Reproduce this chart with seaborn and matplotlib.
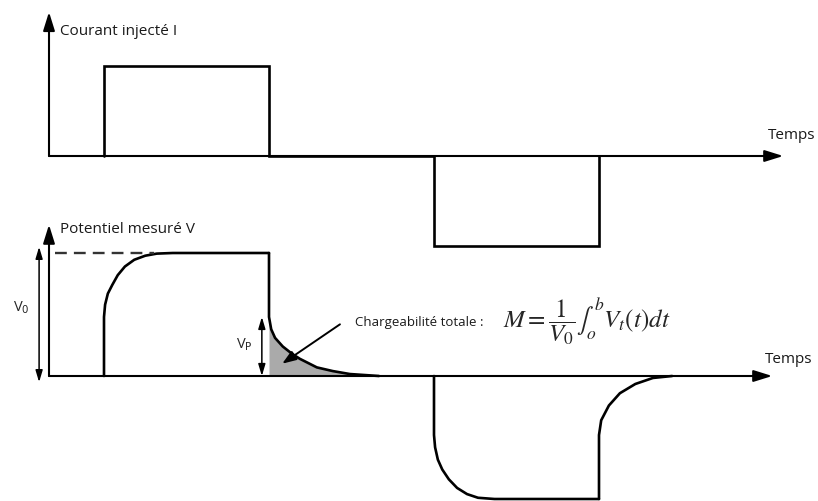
import matplotlib
matplotlib.use("Agg")
import matplotlib.pyplot as plt
import seaborn as sns

sns.set_style("white")
plt.rcParams['font.family'] = ['Open Sans', 'DejaVu Sans']

# injected current: two opposite square pulses (time units, current units)
current_t = [1, 1, 4, 4, 7, 7, 10, 10]
current_i = [0, 1, 1, 0, 0, -1, -1, 0]

charge_t = [1.0, 1.0, 1.02, 1.07, 1.15, 1.25, 1.38, 1.55, 1.75, 1.96, 2.25, 4.0]
charge_v = [0.0, 0.48, 0.58, 0.67, 0.74, 0.82, 0.89, 0.945, 0.978, 0.995, 1.0, 1.0]
decay_t = [4.0, 4.0, 4.04, 4.11, 4.25, 4.42, 4.56, 4.87, 5.16, 5.47, 6.0]
decay_v = [1.0, 0.48, 0.38, 0.31, 0.24, 0.18, 0.14, 0.07, 0.04, 0.016, 0.0]
neg_charge_t = [7.0, 7.0, 7.02, 7.07, 7.15, 7.27, 7.42, 7.6, 7.8, 8.1, 10.0]
neg_charge_v = [0.0, -0.48, -0.58, -0.68, -0.76, -0.84, -0.91, -0.96, -0.99, -1.0, -1.0]
neg_decay_t = [10.0, 10.0, 10.04, 10.18, 10.38, 10.66, 10.98, 11.33]
neg_decay_v = [-1.0, -0.48, -0.36, -0.24, -0.14, -0.065, -0.016, 0.0]

v0 = 1.0
vp = 0.48
t_end_top = 13.35
t_end_bottom = 13.15

W, H = 818, 502
fig = plt.figure(figsize=(W / 100, H / 100), dpi=100)
ax_i = fig.add_axes([0, 0, 1, 1])
ax_v = fig.add_axes([0, 0, 1, 1])

# scales: 55 px per time unit, axes origin at x=49 px
px_t, x0 = 55.0, 49.0
for ax in (ax_i, ax_v):
    ax.set_axis_off()
    ax.patch.set_alpha(0)
    ax.set_xlim(-x0 / px_t, (W - x0) / px_t)
ax_i.set_ylim((157 - H) / 90.0, 157 / 90.0)
ax_v.set_ylim((377 - H) / 123.0, 377 / 123.0)

line_kw = dict(color='black', linewidth=1.9, sort=False, estimator=None,
               solid_joinstyle='miter', clip_on=False)
axis_arrow = dict(arrowstyle='-|>,head_length=0.8,head_width=0.25', color='black',
                  lw=1.5, mutation_scale=14, shrinkA=0, shrinkB=0)
lab = dict(fontsize=11, va='center', color='#1a1a1a')

# ---- top: injected current
ax_i.annotate('', xy=(t_end_top, 0), xytext=(0, 0), arrowprops=axis_arrow)
ax_i.annotate('', xy=(0, 1.6), xytext=(0, 0), arrowprops=axis_arrow)
sns.lineplot(x=current_t, y=current_i, ax=ax_i, **line_kw)
ax_i.text(0.2, 1.39, 'Courant injecté I', **lab)
ax_i.text(13.07, 0.24, 'Temps', **lab)

# ---- bottom: measured potential
ax_v.fill_between(decay_t[1:], decay_v[1:], 0, color='#aaaaaa', lw=0)
ax_v.annotate('', xy=(t_end_bottom, 0), xytext=(0, 0), arrowprops=axis_arrow)
ax_v.annotate('', xy=(0, 1.23), xytext=(0, 0), arrowprops=axis_arrow)
for tt, vv in [(charge_t, charge_v), (decay_t, decay_v),
               (neg_charge_t, neg_charge_v), (neg_decay_t, neg_decay_v)]:
    sns.lineplot(x=tt, y=vv, ax=ax_v, **line_kw)

ax_v.plot([0.11, 1.9], [v0, v0], color='#333333', lw=1.7, dashes=(5, 3))

small_arrow = dict(arrowstyle='<|-|>,head_length=0.5,head_width=0.15', color='black',
                   lw=1.1, mutation_scale=14, shrinkA=0, shrinkB=0)
ax_v.annotate('', xy=(-0.18, v0 + 0.05), xytext=(-0.18, -0.05), arrowprops=small_arrow)
ax_v.annotate('', xy=(3.87, vp), xytext=(3.87, 0), arrowprops=small_arrow)
ax_v.text(-0.66, 0.56, r'V$_0$', fontsize=10.5, va='center', math_fontfamily='dejavusans')
ax_v.text(3.4, 0.26, r'V$_\mathrm{P}$', fontsize=10.5, va='center', math_fontfamily='dejavusans')

ax_v.annotate('', xy=(4.24, 0.1), xytext=(5.29, 0.42),
              arrowprops=dict(arrowstyle='-|>,head_length=0.6,head_width=0.22',
                              color='black', lw=1.4, mutation_scale=14,
                              shrinkA=0, shrinkB=0))
ax_v.text(5.56, 0.44, 'Chargeabilité totale :', fontsize=9.5, va='center', color='#1a1a1a')
ax_v.text(8.25, 0.45, r'$M=\dfrac{1}{V_0}\int_o^b V_t(t)dt$', fontsize=18,
          va='center', math_fontfamily='stix')

ax_v.text(0.2, 1.2, 'Potentiel mesuré V', **lab)
ax_v.text(13.02, 0.14, 'Temps', **lab)

fig.savefig('out.png', dpi=100)
